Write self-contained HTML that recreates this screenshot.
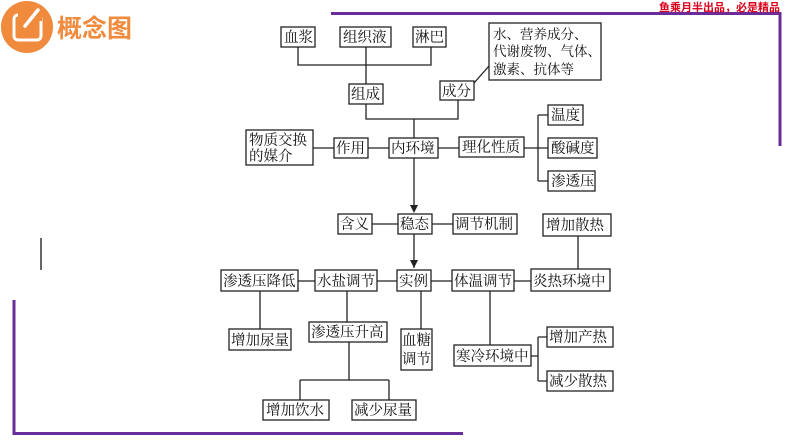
<!DOCTYPE html>
<html><head><meta charset="utf-8"><style>
body{margin:0;background:#fff;width:794px;height:447px;overflow:hidden}
svg{display:block}
text{font-family:"Liberation Serif","Noto Serif CJK SC","Noto Sans CJK SC",serif;font-size:14.5px;fill:#111}
</style></head><body>
<svg width="794" height="447" viewBox="0 0 794 447">
<path d="M331 13.5 H780 V146" stroke="#6a2c9a" stroke-width="3" fill="none"/>
<path d="M14 300 V433.5 H463" stroke="#6a2c9a" stroke-width="3" fill="none"/>
<line x1="41" y1="238" x2="41" y2="270" stroke="#666" stroke-width="2"/>
<text x="780" y="11" text-anchor="end" style="font-size:11px;fill:#d9001b;font-weight:bold;font-family:'Liberation Sans','Noto Sans CJK SC',sans-serif">鱼乘月半出品，必是精品</text>
<circle cx="27" cy="27" r="26" fill="#f08a3c"/>
<rect x="14" y="15" width="27" height="25" rx="4" fill="none" stroke="#fff" stroke-width="3"/>
<rect x="18" y="9" width="24" height="12" fill="#f08a3c"/>
<line x1="25" y1="26" x2="38" y2="10" stroke="#fff" stroke-width="3.5" stroke-linecap="round"/>
<text x="57" y="37" style="font-size:25px;font-weight:bold;fill:#f08a3c;font-family:'Noto Sans CJK SC',sans-serif">概念图</text>

<g stroke="#222" stroke-width="1.3" fill="none">
<path d="M298 46 V65 H431 V46 M366 46 V84 M366 104 V119 H458 V100 M414 119 V138 M474 83 L489 66"/>
<path d="M313 148 H334 M368 148 H389 M438 148 H459 M524 148 H538 M538 115 V181 M538 115 H548 M538 148 H548 M538 181 H548"/>
<path d="M414 157 V210"/>
<path d="M372 224 H398 M432 224 H453 M414 234 V268"/>
<path d="M298 281 H315 M377 281 H397 M431 281 H452 M514 281 H531 M578 236 V269"/>
<path d="M260 291 V329 M347 291 V322 M421 291 V329 M490 291 V345 M531 356 H538 M538 337 V381 M538 337 H547 M538 381 H547"/>
<path d="M349 342 V380 M300 380 H389 M300 380 V400 M389 380 V400"/>
</g>
<path d="M410 205 L414 213 L418 205 Z M410 260 L414 268 L418 260 Z" fill="#222"/>

<g stroke="#222" stroke-width="1.3" fill="#fff">
<rect x="281" y="27" width="34" height="20"/>
<rect x="340" y="27" width="51" height="20"/>
<rect x="413" y="27" width="33" height="20"/>
<rect x="489" y="23" width="112" height="57"/>
<rect x="349" y="84" width="34" height="20"/>
<rect x="440" y="81" width="34" height="19"/>
<rect x="246" y="130" width="67" height="35"/>
<rect x="334" y="138" width="34" height="20"/>
<rect x="389" y="138" width="49" height="20"/>
<rect x="459" y="137" width="65" height="20"/>
<rect x="548" y="105" width="35" height="20"/>
<rect x="548" y="138" width="49" height="20"/>
<rect x="548" y="171" width="47" height="20"/>
<rect x="338" y="214" width="34" height="20"/>
<rect x="398" y="214" width="34" height="20"/>
<rect x="453" y="214" width="64" height="20"/>
<rect x="543" y="214" width="68" height="22"/>
<rect x="221" y="270" width="77" height="21"/>
<rect x="315" y="270" width="62" height="21"/>
<rect x="397" y="270" width="34" height="21"/>
<rect x="452" y="270" width="62" height="21"/>
<rect x="531" y="269" width="79" height="22"/>
<rect x="229" y="329" width="62" height="21"/>
<rect x="309" y="322" width="78" height="20"/>
<rect x="401" y="329" width="31" height="41"/>
<rect x="454" y="345" width="77" height="21"/>
<rect x="547" y="327" width="66" height="20"/>
<rect x="547" y="371" width="66" height="20"/>
<rect x="263" y="400" width="66" height="20"/>
<rect x="352" y="400" width="64" height="20"/>
</g>

<g>
<text x="284" y="42">血浆</text>
<text x="343" y="42">组织液</text>
<text x="415" y="42">淋巴</text>
<text x="493" y="39" style="font-size:13.5px">水、营养成分、</text>
<text x="493" y="56" style="font-size:13.5px">代谢废物、气体、</text>
<text x="493" y="74" style="font-size:13.5px">激素、抗体等</text>
<text x="351" y="99">组成</text>
<text x="442" y="96">成分</text>
<text x="249" y="145">物质交换</text>
<text x="249" y="161">的媒介</text>
<text x="336" y="153">作用</text>
<text x="391" y="153">内环境</text>
<text x="462" y="152">理化性质</text>
<text x="551" y="120">温度</text>
<text x="551" y="153">酸碱度</text>
<text x="551" y="186">渗透压</text>
<text x="340" y="229">含义</text>
<text x="400" y="229">稳态</text>
<text x="455" y="229">调节机制</text>
<text x="546" y="230">增加散热</text>
<text x="223" y="286">渗透压降低</text>
<text x="317" y="286">水盐调节</text>
<text x="399" y="286">实例</text>
<text x="454" y="286">体温调节</text>
<text x="533" y="286">炎热环境中</text>
<text x="231" y="345">增加尿量</text>
<text x="311" y="337">渗透压升高</text>
<text x="402" y="345">血糖</text>
<text x="402" y="364">调节</text>
<text x="456" y="361">寒冷环境中</text>
<text x="549" y="342">增加产热</text>
<text x="549" y="386">减少散热</text>
<text x="266" y="415">增加饮水</text>
<text x="354" y="415">减少尿量</text>
</g>
</svg>
</body></html>
